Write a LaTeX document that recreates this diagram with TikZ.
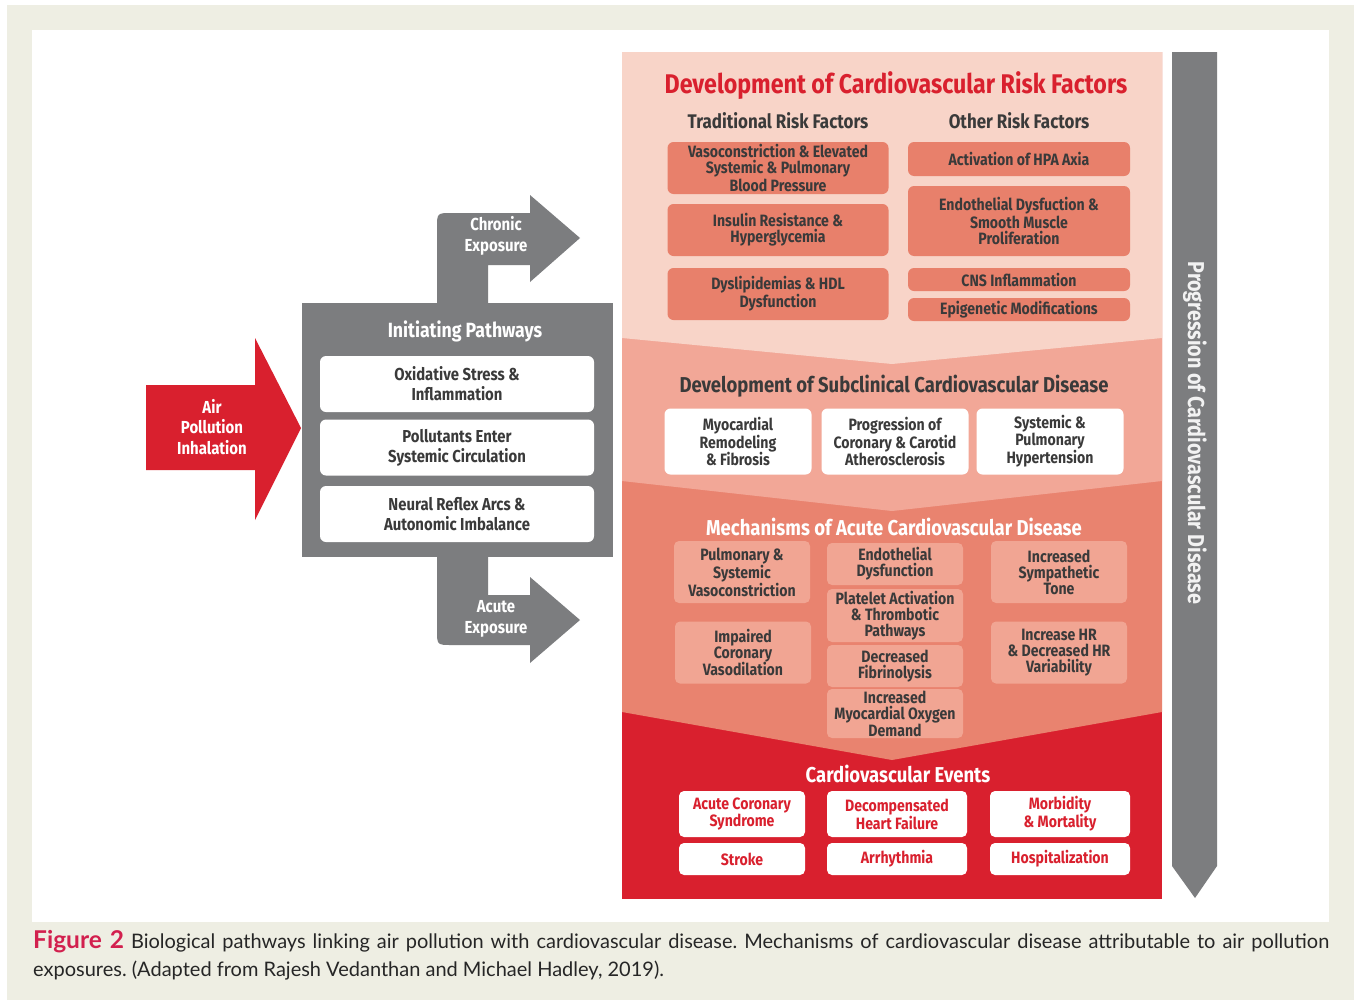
\documentclass[tikz,border=0pt]{standalone}
\usepackage{fontspec}
\setmainfont{Fira Sans}[FakeStretch=0.86]
\newfontfamily\capfont{Lato}
\frenchspacing
\definecolor{figred}{HTML}{D9202E}
\definecolor{capred}{HTML}{D2204E}
\definecolor{secone}{HTML}{F8D4C8}
\definecolor{sectwo}{HTML}{F2A797}
\definecolor{secthree}{HTML}{E9836F}
\definecolor{riskfill}{HTML}{E8806B}
\definecolor{mechfill}{HTML}{F1A593}
\definecolor{figgray}{HTML}{7C7D7F}
\definecolor{darktext}{HTML}{3A3A3A}
\definecolor{pagebeige}{HTML}{EEEEE3}

\begin{document}
\begin{tikzpicture}[x=1pt, y=-1pt]
\tikzset{every node/.style={align=center, inner sep=0pt, text=darktext}}
\tikzset{boxfont/.style={font=\bfseries\fontsize{16.4}{16}\selectfont}}
\tikzset{riskbox/.style={boxfont, fill=riskfill, rounded corners=6pt}}
\tikzset{subbox/.style={boxfont, fill=white, rounded corners=6pt, minimum width=147pt, minimum height=66pt}}
\tikzset{mechbox/.style={boxfont, fill=mechfill, rounded corners=5pt, minimum width=136pt}}
\tikzset{eventbox/.style={boxfont, fill=white, text=figred, rounded corners=5pt}}
\tikzset{pathbox/.style={font=\bfseries\fontsize{17.3}{20}\selectfont, fill=white, rounded corners=6pt, minimum width=274pt, minimum height=56pt}}
\tikzset{sectitle/.style={font=\bfseries\fontsize{21.5}{22}\selectfont}}
\tikzset{arrowtext/.style={font=\bfseries\fontsize{17.4}{20.5}\selectfont, text=white}}
\useasboundingbox (0,0) rectangle (1357,1004);
\fill[pagebeige] (7,5) rectangle (1354,1000);
\fill[white] (32,30) rectangle (1329,922);

% stacked chevron bands
\fill[figred] (622,52) rectangle (1162,899);
\fill[secthree] (622,52) -- (1162,52) -- (1162,712) -- (892,760) -- (622,712) -- cycle;
\fill[sectwo] (622,52) -- (1162,52) -- (1162,481) -- (892,511) -- (622,481) -- cycle;
\fill[secone] (622,52) -- (1162,52) -- (1162,338) -- (892,364) -- (622,338) -- cycle;

% progression bar
\fill[figgray] (1172,52) -- (1217,52) -- (1217,866) -- (1195,898) -- (1172,866) -- cycle;
\node[rotate=-90, sectitle, font=\bfseries\fontsize{23}{24}\selectfont, text=white!90!gray] (prog) at (1195,433) {Progression of Cardiovascular Disease};

% risk factors
\node[font=\bfseries\fontsize{27}{28}\selectfont, text=figred] (risktitle) at (896,86) {Development of Cardiovascular Risk Factors};
\node[font=\bfseries\fontsize{19.7}{20}\selectfont] (tradtitle) at (778,121) {Traditional Risk Factors};
\node[font=\bfseries\fontsize{19.7}{20}\selectfont] (othtitle) at (1019,121) {Other Risk Factors};
\node[riskbox, minimum width=221pt, minimum height=52pt] (trad1) at (778,168) {Vasoconstriction \& Elevated\\Systemic \& Pulmonary\\Blood Pressure};
\node[riskbox, minimum width=221pt, minimum height=52pt] (trad2) at (778,230) {Insulin Resistance \&\\Hyperglycemia};
\node[riskbox, minimum width=221pt, minimum height=52pt] (trad3) at (778,294) {Dyslipidemias \& HDL\\Dysfunction};
\node[riskbox, minimum width=222pt, minimum height=34pt] (oth1) at (1019,159) {Activation of HPA Axia};
\node[riskbox, minimum width=222pt, minimum height=70pt] (oth2) at (1019,221) {Endothelial Dysfuction \&\\Smooth Muscle\\Proliferation};
\node[riskbox, minimum width=222pt, minimum height=23pt] (oth3) at (1019,279.5) {CNS Inflammation};
\node[riskbox, minimum width=222pt, minimum height=23pt] (oth4) at (1019,309.5) {Epigenetic Modifications};

% subclinical disease
\node[sectitle] (subtitle) at (894,386) {Development of Subclinical Cardiovascular Disease};
\node[subbox] (sub1) at (738,441.5) {Myocardial\\Remodeling\\\& Fibrosis};
\node[subbox] (sub2) at (895,441.5) {Progression of\\Coronary \& Carotid\\Atherosclerosis};
\node[subbox] (sub3) at (1050,441.5) {Systemic \&\\Pulmonary\\Hypertension};

% acute mechanisms
\node[sectitle, text=white] (mechtitle) at (894,527) {Mechanisms of Acute Cardiovascular Disease};
\node[mechbox, minimum height=62pt] (mechL1) at (742,572) {Pulmonary \&\\Systemic\\Vasoconstriction};
\node[mechbox, minimum height=62pt] (mechL2) at (743,652.5) {Impaired\\Coronary\\Vasodilation};
\node[mechbox, minimum height=42pt] (mechM1) at (895,564) {Endothelial\\Dysfunction};
\node[mechbox, minimum height=53pt] (mechM2) at (895,615.5) {Platelet Activation\\\& Thrombotic\\Pathways};
\node[mechbox, minimum height=42pt] (mechM3) at (895,666) {Decreased\\Fibrinolysis};
\node[mechbox, minimum height=49pt] (mechM4) at (895,713.5) {Increased\\Myocardial Oxygen\\Demand};
\node[mechbox, minimum height=62pt] (mechR1) at (1059,572) {Increased\\Sympathetic\\Tone};
\node[mechbox, minimum height=62pt] (mechR2) at (1059,652.5) {Increase HR\\\& Decreased HR\\Variability};

% events
\node[sectitle, text=white] (evtitle) at (898,774) {Cardiovascular Events};
\node[eventbox, minimum width=126pt, minimum height=46pt] (ev1) at (742,814) {Acute Coronary\\Syndrome};
\node[eventbox, minimum width=140pt, minimum height=46pt] (ev2) at (897,814) {Decompensated\\Heart Failure};
\node[eventbox, minimum width=140pt, minimum height=46pt] (ev3) at (1060,814) {Morbidity\\\& Mortality};
\node[eventbox, minimum width=126pt, minimum height=32pt] (ev4) at (742,859) {Stroke};
\node[eventbox, minimum width=140pt, minimum height=32pt] (ev5) at (897,859) {Arrhythmia};
\node[eventbox, minimum width=140pt, minimum height=32pt] (ev6) at (1060,859) {Hospitalization};

% initiating pathways and exposure arrows
\fill[figgray] (437,303) -- (437,228) .. controls (437,213) .. (452,213) -- (530,213) -- (530,195) -- (580,238) -- (530,282) -- (530,265) -- (488,265) -- (488,303) -- cycle;
\fill[figgray] (437,556) -- (437,630) .. controls (437,645) .. (452,645) -- (530,645) -- (530,663) -- (580,620) -- (530,577) -- (530,595) -- (488,595) -- (488,556) -- cycle;
\fill[figgray] (302,303) rectangle (613,557);
\node[arrowtext] (chronic) at (496,236) {Chronic\\Exposure};
\node[arrowtext] (acute) at (496,619) {Acute\\Exposure};
\node[font=\bfseries\fontsize{20.6}{22}\selectfont, text=white] (inittitle) at (465,331) {Initiating Pathways};
\node[pathbox] (path1) at (457,384) {Oxidative Stress \&\\Inflammation};
\node[pathbox] (path2) at (457,447.5) {Pollutants Enter\\Systemic Circulation};
\node[pathbox] (path3) at (457,514) {Neural Reflex Arcs \&\\Autonomic Imbalance};

% air pollution arrow
\fill[figred] (146,385) -- (255,385) -- (255,338) -- (301,428) -- (255,520) -- (255,470) -- (146,470) -- cycle;
\node[arrowtext] (air) at (212,427) {Air\\Pollution\\Inhalation};

% caption
\node[anchor=base west, font=\capfont\fontsize{20}{24}\selectfont, text=black!85] (cap1) at (33,948) {\makebox[1296pt][s]{\textcolor{capred}{\fontsize{24.5}{24}\selectfont\bfseries Figure 2} Biological pathways linking air pollution with cardiovascular disease. Mechanisms of cardiovascular disease attributable to air pollution}};
\node[anchor=base west, font=\capfont\fontsize{20}{24}\selectfont, text=black!85] (cap2) at (33,976) {exposures. (Adapted from Rajesh Vedanthan and Michael Hadley, 2019).};
\end{tikzpicture}
\end{document}
